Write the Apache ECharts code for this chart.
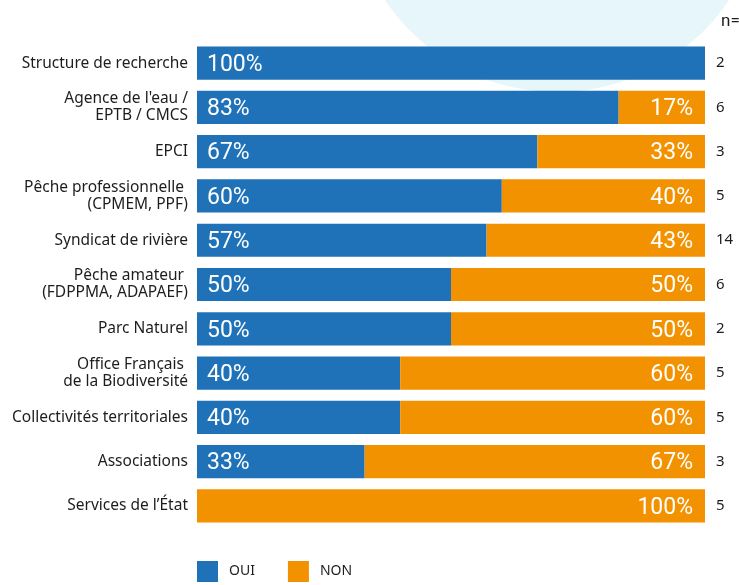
<!DOCTYPE html>
<html>
<head>
<meta charset="utf-8">
<script src="https://cdn.jsdelivr.net/npm/echarts@6/dist/echarts.min.js"></script>
<style>
  html, body { margin: 0; padding: 0; background: #fff; }
  #chart { width: 739px; height: 585px; }
</style>
</head>
<body>
<div id="chart"></div>
<script>
// catégories, de haut en bas
const categories = [
    'Structure de recherche',
    'Agence de l\'eau /\nEPTB / CMCS',
    'EPCI',
    'Pêche professionnelle \n(CPMEM, PPF)',
    'Syndicat de rivière',
    'Pêche amateur \n(FDPPMA, ADAPAEF)',
    'Parc Naturel',
    'Office Français \nde la Biodiversité',
    'Collectivités territoriales',
    'Associations',
    'Services de l\u2019État'
]
const oui = [100, 83, 67, 60, 57, 50, 50, 40, 40, 33, 0]
const non = [0, 17, 33, 40, 43, 50, 50, 60, 60, 67, 100]
const nEff = ['2', '6', '3', '5', '14', '6', '2', '5', '5', '3', '5']

const BLUE = '#1F71B8'
const ORANGE = '#F39200'
const FONT = 'Roboto'
const LABEL_FONT = 'Noto Sans'

const myChart = echarts.init(document.getElementById('chart'))

const option = {
    animation: false,
    textStyle: { fontFamily: FONT },
    // cercle décoratif en haut
    graphic: [
        {
            type: 'circle',
            shape: { cx: 557, cy: -115, r: 207 },
            style: { fill: '#E6F6FB' },
            z: -10
        },
        {
            type: 'text',
            left: 721,
            top: 13,
            style: { text: 'n=', fill: '#1d1d1b', font: '17px ' + FONT }
        }
    ],
    legend: {
        left: 197,
        bottom: 3,
        padding: 0,
        itemWidth: 21,
        itemHeight: 21,
        itemGap: 33,
        icon: 'rect',
        textStyle: { fontSize: 14, fontFamily: LABEL_FONT, color: '#1d1d1b', padding: [0, 0, 0, 6] },
        data: ['OUI', 'NON']
    },
    grid: {
        left: 197,
        right: 34,
        top: 41,
        bottom: 57
    },
    xAxis: {
        type: 'value',
        min: 0,
        max: 100,
        show: false
    },
    yAxis: [
        {
            type: 'category',
            inverse: true,
            data: categories,
            axisLine: { show: false },
            axisTick: { show: false },
            axisLabel: {
                margin: 9,
                fontSize: 15.5,
                fontFamily: LABEL_FONT,
                color: '#1d1d1b',
                lineHeight: 17
            }
        },
        {
            type: 'category',
            inverse: true,
            position: 'right',
            data: nEff,
            axisLine: { show: false },
            axisTick: { show: false },
            axisLabel: {
                margin: 11,
                fontSize: 15,
                fontFamily: LABEL_FONT,
                color: '#1d1d1b'
            }
        }
    ],
    series: [
        {
            name: 'OUI',
            type: 'bar',
            stack: 'total',
            barCategoryGap: '25%',
            itemStyle: { color: BLUE },
            label: {
                show: true,
                position: 'insideLeft',
                distance: 10,
                offset: [0, 2],
                color: '#fff',
                fontSize: 23,
                formatter: p => p.value > 0 ? p.value + '%' : ''
            },
            data: oui
        },
        {
            name: 'NON',
            type: 'bar',
            stack: 'total',
            itemStyle: { color: ORANGE },
            label: {
                show: true,
                position: 'insideRight',
                distance: 12,
                offset: [0, 2],
                color: '#fff',
                fontSize: 23,
                formatter: p => p.value > 0 ? p.value + '%' : ''
            },
            data: non
        }
    ]
}

myChart.setOption(option)
</script>
</body>
</html>
